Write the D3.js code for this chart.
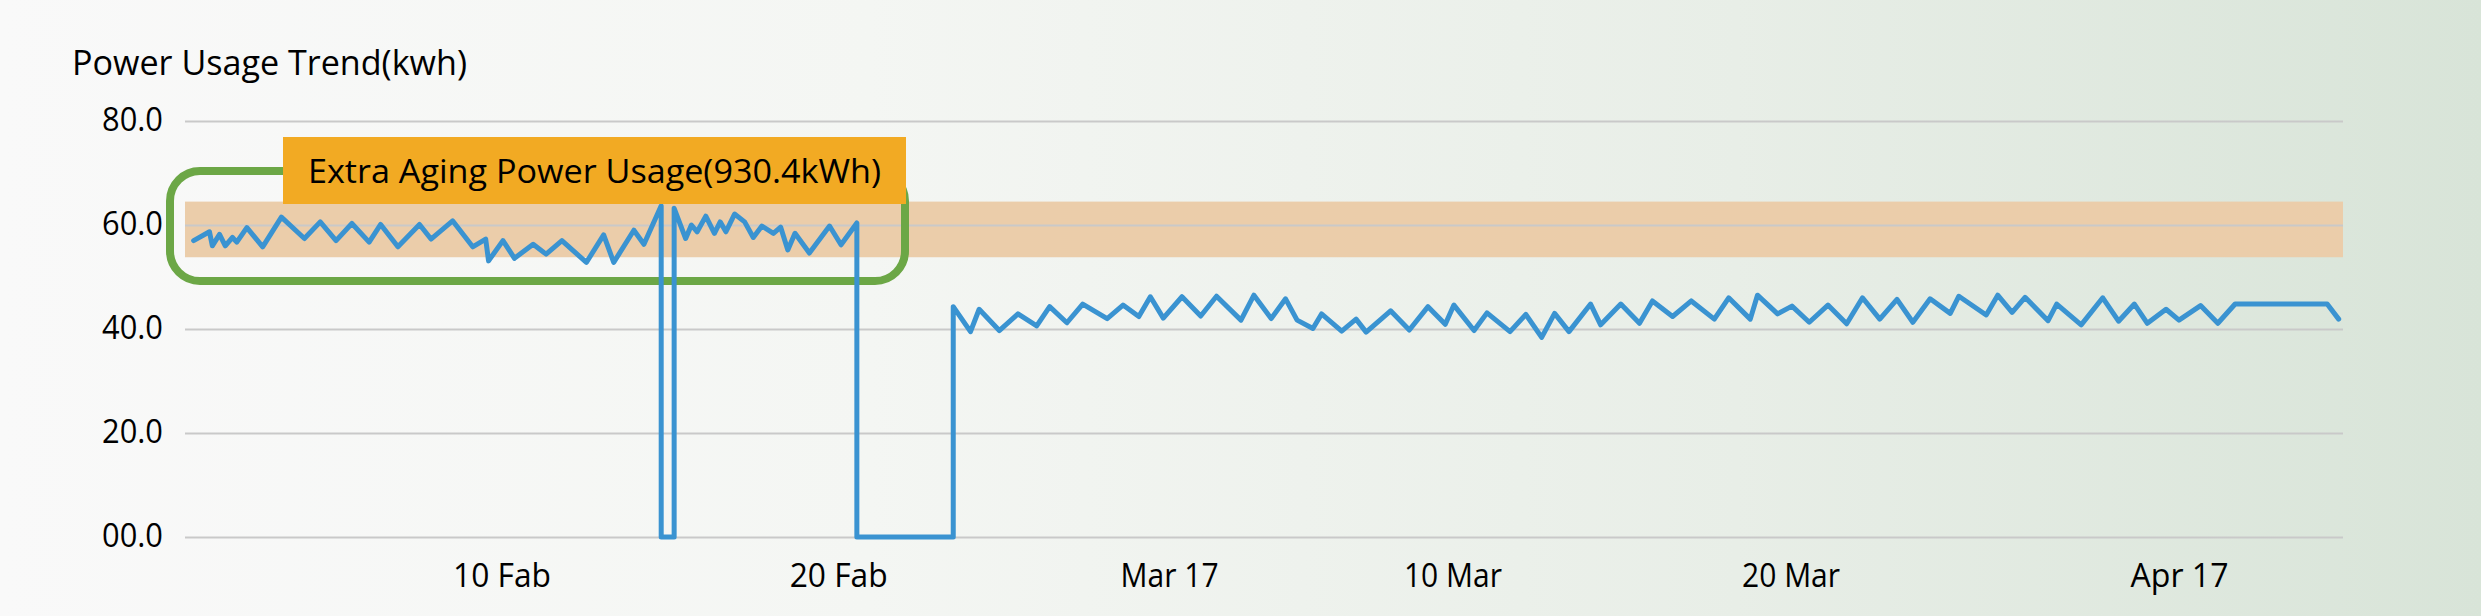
<!DOCTYPE html>
<html>
<head>
<meta charset="utf-8">
<script src="https://cdn.jsdelivr.net/npm/d3@7/dist/d3.min.js"></script>
<style>
  html, body { margin: 0; padding: 0; overflow: hidden; }
  body { width: 2481px; height: 616px; }
  svg { display: block; font-family: "Open Sans", "Noto Sans", sans-serif; }
</style>
</head>
<body>
<svg id="chart" width="2481" height="616"></svg>
<script>
// ---------- data ----------
const chartTitle = "Power Usage Trend(kwh)";
const annotationText = "Extra Aging Power Usage(930.4kWh)";
const agingBand = [53.8, 64.5];            // highlighted usage band (kWh)
const yTicks = [0, 20, 40, 60, 80];
const yTickLabels = ["00.0", "20.0", "40.0", "60.0", "80.0"];
const xTickPos = [220, 454, 684, 881, 1116, 1386];
const xTickLabels = ["10 Fab", "20 Fab", "Mar 17", "10 Mar", "20 Mar", "Apr 17"];

const hours = [6,17,19,24,28,33,36,43,54,67,
  83,94,105,116,128,136,148,163,171,186,
  200,209,211,221,229,242,251,262,279,291,
  298,312,319,331,331,340,340,348,352,356,
  362,368,372,376,382,389,395,401,409,414,
  419,424,434,448,456,467,467,534,534,546,
  552,566,579,592,601,613,624,641,652,663,
  671,680,693,706,717,734,743,755,765,773,
  784,790,804,814,821,838,851,864,876,882,
  896,905,921,932,943,952,962,977,984,998,
  1011,1020,1034,1047,1063,1073,1088,1093,1107,1117,
  1129,1142,1155,1166,1178,1190,1201,1213,1227,1233,
  1252,1260,1270,1279,1295,1301,1318,1333,1344,1355,
  1364,1377,1386,1401,1413,1425,1489,1497];

const usage = [57.0,58.7,56.0,58.2,56.0,57.6,56.7,59.5,55.8,61.5,
  57.4,60.6,57.0,60.3,56.7,60.1,55.8,60.1,57.3,60.8,
  55.8,57.3,53.1,57.0,53.6,56.3,54.4,57.0,52.8,58.1,
  52.8,59.0,56.3,63.7,0,0,63.2,57.4,60.0,58.7,
  61.7,58.4,60.6,58.7,62.1,60.6,57.6,59.8,58.4,59.6,
  55.2,58.4,54.6,59.8,56.2,60.4,0,0,44.3,39.5,
  43.8,39.7,42.9,40.6,44.3,41.2,44.8,42.0,44.6,42.4,
  46.2,42.1,46.2,42.5,46.3,41.7,46.5,42.0,45.8,41.7,
  40.1,42.9,39.6,41.9,39.4,43.5,39.8,44.3,40.9,44.6,
  39.7,43.1,39.5,42.8,38.4,43.0,39.5,44.8,40.8,44.8,
  41.1,45.4,42.4,45.4,41.9,46.0,41.9,46.5,42.9,44.4,
  41.3,44.6,41.0,46.0,41.9,45.7,41.3,45.8,43.0,46.3,
  42.7,46.5,43.2,46.1,41.6,44.8,40.8,46.0,41.5,44.8,
  41.1,43.8,41.7,44.5,41.1,44.8,44.8,41.9];

// ---------- layout ----------
const W = 2481, H = 616;
const plot = { left: 185, right: 2343, top: 121, bottom: 537 };
const svg = d3.select("#chart");

// background gradient
const defs = svg.append("defs");
const grad = defs.append("linearGradient").attr("id", "bg").attr("x1", "0").attr("x2", "1").attr("y1", "0").attr("y2", "0");
grad.append("stop").attr("offset", "0%").attr("stop-color", "#f9f9f9");
grad.append("stop").attr("offset", "35%").attr("stop-color", "#f4f6f3");
grad.append("stop").attr("offset", "70%").attr("stop-color", "#e8eee7");
grad.append("stop").attr("offset", "100%").attr("stop-color", "#d8e4d8");
svg.append("rect").attr("width", W).attr("height", H).attr("fill", "url(#bg)");

const x = d3.scaleLinear().domain([0, 1500]).range([plot.left, plot.right]);
const y = d3.scaleLinear().domain([0, 80]).range([plot.bottom, plot.top]);

// band
svg.append("rect")
  .attr("x", plot.left).attr("width", plot.right - plot.left)
  .attr("y", y(agingBand[1])).attr("height", y(agingBand[0]) - y(agingBand[1]))
  .attr("fill", "#ebcdaa");

// gridlines
const grid = svg.append("g").attr("transform", `translate(${plot.left},0)`)
  .call(d3.axisLeft(y).tickValues(yTicks).tickSize(-(plot.right - plot.left)).tickFormat(""));
grid.select(".domain").remove();
grid.selectAll("line").attr("stroke", "#c9c9c9").attr("stroke-width", 2);

// y labels
const yAxis = svg.append("g").attr("transform", `translate(${plot.left},0)`)
  .call(d3.axisLeft(y).tickValues(yTicks).tickSize(0).tickPadding(22)
    .tickFormat((d, i) => yTickLabels[i]));
yAxis.select(".domain").remove();
yAxis.selectAll("text")
  .attr("font-family", "'Open Sans', sans-serif")
  .attr("font-size", 33).attr("fill", "#000").attr("dy", "0.30em")
  .attr("textLength", 61).attr("lengthAdjust", "spacingAndGlyphs");

// x labels
const xAxis = svg.append("g").attr("transform", `translate(0,${plot.bottom})`)
  .call(d3.axisBottom(x).tickValues(xTickPos).tickSize(0).tickPadding(0)
    .tickFormat((d, i) => xTickLabels[i]));
xAxis.select(".domain").remove();
xAxis.selectAll("text")
  .attr("font-family", "'Open Sans', sans-serif")
  .attr("font-size", 33).attr("fill", "#000")
  .attr("y", 50).attr("dy", 0)
  .attr("textLength", 98).attr("lengthAdjust", "spacingAndGlyphs");

// title
svg.append("text").attr("x", 72).attr("y", 75)
  .attr("font-size", 34).attr("fill", "#000")
  .attr("textLength", 395).attr("lengthAdjust", "spacingAndGlyphs")
  .text(chartTitle);

// green highlight box
svg.append("rect")
  .attr("x", 170).attr("y", 171).attr("width", 735).attr("height", 110)
  .attr("rx", 30).attr("ry", 30)
  .attr("fill", "none").attr("stroke", "#6ca746").attr("stroke-width", 8);

// line
const line = d3.line().x((d, i) => x(hours[i])).y(d => y(d));
svg.append("path").datum(usage)
  .attr("d", line)
  .attr("fill", "none").attr("stroke", "#3a93d1").attr("stroke-width", 5)
  .attr("stroke-linejoin", "round").attr("stroke-linecap", "round");

// orange annotation label
svg.append("rect").attr("x", 283).attr("y", 137).attr("width", 623).attr("height", 67)
  .attr("fill", "#f2aa23");
svg.append("text").attr("x", 308).attr("y", 183)
  .attr("font-size", 33).attr("fill", "#000")
  .attr("textLength", 573).attr("lengthAdjust", "spacingAndGlyphs")
  .text(annotationText);
</script>
</body>
</html>
